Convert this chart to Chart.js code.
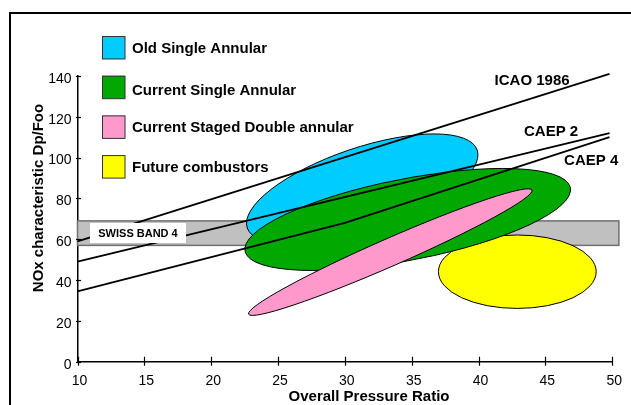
<!DOCTYPE html>
<html>
<head>
<meta charset="utf-8">
<script src="https://cdn.jsdelivr.net/npm/chart.js@4"></script>
<style>
  html, body { margin:0; padding:0; background:#fff; }
  #wrap { width:631px; height:405px; overflow:hidden; }
</style>
</head>
<body>
<div id="wrap"><canvas id="noxChart" width="631" height="405"></canvas></div>
<script>
// --- Dane ---
const xTicks = [10, 15, 20, 25, 30, 35, 40, 45, 50];
const yTicks = [0, 20, 40, 60, 80, 100, 120, 140];

const lineNames = ['ICAO 1986', 'CAEP 2', 'CAEP 4'];
const icaoX = [10, 49.8],      icaoY = [59, 141];
const caep2X = [10, 49.8],     caep2Y = [49, 112];
const caep4X = [10, 30, 49.8], caep4Y = [34.5, 68, 110];

const groupNames = ['Old Single Annular', 'Current Single Annular', 'Current Staged Double annular', 'Future combustors'];
const groupColors = ['#00ccff', '#00a800', '#ff99cc', '#ffff00'];
// ellipse = centre + two conjugate half-diameters (axis units)
const ellCentre = [[31.3, 84.6], [34.7, 69.7], [33.4, 53.7], [42.9, 44.1]];
const ellHalfA  = [[8.6, 19.1],  [7.1, 25.0],  [10.6, 30.4], [5.9, 0]];
const ellHalfB  = [[1.0, -19.1], [9.9, 0],     [0.4, -6.2],  [0, 18.0]];
const drawOrder = [3, 0, 1, 2];

const bandName = 'SWISS BAND 4';
const bandX = [10, 50.5], bandY = [57, 69];

const FONT = '"Liberation Sans", Arial, sans-serif';

// --- Rysowanie tła: pasmo + elipsy ---
const shapesPlugin = {
  id: 'shapes',
  beforeDatasetsDraw(chart){
    const ctx = chart.ctx, xs = chart.scales.x, ys = chart.scales.y;
    ctx.save();
    // band
    const bx0 = xs.getPixelForValue(bandX[0]), bx1 = xs.getPixelForValue(bandX[1]);
    const by0 = ys.getPixelForValue(bandY[1]), by1 = ys.getPixelForValue(bandY[0]);
    ctx.fillStyle = '#c0c0c0';
    ctx.fillRect(bx0, by0, bx1-bx0, by1-by0);
    ctx.strokeStyle = '#707070'; ctx.lineWidth = 1.5;
    ctx.strokeRect(bx0, by0, bx1-bx0, by1-by0);
    // ellipses
    drawOrder.forEach(i => {
      const c = ellCentre[i], a = ellHalfA[i], b = ellHalfB[i];
      const cx = xs.getPixelForValue(c[0]), cy = ys.getPixelForValue(c[1]);
      const ax = xs.getPixelForValue(c[0]+a[0]) - cx, ay = ys.getPixelForValue(c[1]+a[1]) - cy;
      const bxx = xs.getPixelForValue(c[0]+b[0]) - cx, byy = ys.getPixelForValue(c[1]+b[1]) - cy;
      ctx.save();
      ctx.beginPath();
      ctx.transform(ax, ay, bxx, byy, cx, cy);
      ctx.arc(0, 0, 1, 0, 2*Math.PI);
      ctx.restore();
      ctx.fillStyle = groupColors[i]; ctx.fill();
      ctx.strokeStyle = '#000'; ctx.lineWidth = 1; ctx.stroke();
    });
    ctx.restore();
  },
  afterDraw(chart){
    const ctx = chart.ctx, xs = chart.scales.x, ys = chart.scales.y;
    ctx.save();
    // band label
    ctx.fillStyle = '#fff';
    ctx.fillRect(90, 223, 96, 20);
    ctx.fillStyle = '#000';
    ctx.font = 'bold 11px ' + FONT;
    ctx.textAlign = 'center'; ctx.textBaseline = 'middle';
    ctx.fillText(bandName, 138, 233.5);
    // line labels
    ctx.font = 'bold 15px ' + FONT;
    ctx.textAlign = 'left';
    const lx = [41.2, 43.4, 46.4], ly = [137.7, 112.7, 98.3];
    lineNames.forEach((n, i) => ctx.fillText(n, xs.getPixelForValue(lx[i]), ys.getPixelForValue(ly[i])));
    // legend
    groupNames.forEach((n, i) => {
      const top = 36 + i*39.7;
      ctx.fillStyle = groupColors[i];
      ctx.fillRect(102, top, 23, 23);
      ctx.strokeStyle = '#333'; ctx.lineWidth = 1;
      ctx.strokeRect(102.5, top+0.5, 22.5, 22.5);
      ctx.fillStyle = '#000';
      ctx.fillText(n, 132, top + 12.5 + (i === 1 ? 2.5 : 0));
    });
    // axis titles
    ctx.textAlign = 'center';
    ctx.fillText('Overall Pressure Ratio', 369, 397);
    ctx.save();
    ctx.translate(39, 198); ctx.rotate(-Math.PI/2);
    ctx.fillText('NOx characteristic Dp/Foo', 0, 0);
    ctx.restore();
    // tick marks
    ctx.strokeStyle = '#000'; ctx.lineWidth = 1.2;
    const yb = ys.getPixelForValue(0), xl = xs.getPixelForValue(10);
    xTicks.forEach(v => {
      const p = Math.round(xs.getPixelForValue(v)) + 0.5;
      ctx.beginPath(); ctx.moveTo(p, yb-5); ctx.lineTo(p, yb+4); ctx.stroke();
    });
    yTicks.forEach(v => {
      const p = Math.round(ys.getPixelForValue(v)) + 0.5;
      ctx.beginPath(); ctx.moveTo(xl-1.5, p); ctx.lineTo(xl+3.5, p); ctx.stroke();
    });
    // frame
    ctx.lineWidth = 2;
    ctx.strokeRect(10, 13, 700, 500);
    ctx.restore();
  }
};

const zip = (xa, ya) => xa.map((x, i) => ({x, y: ya[i]}));
const lineStyle = { borderColor:'#000', borderWidth:1.8, pointRadius:0, fill:false, tension:0, clip: false };

new Chart(document.getElementById('noxChart'), {
  type: 'line',
  data: {
    datasets: [
      { label: lineNames[0], data: zip(icaoX, icaoY), ...lineStyle },
      { label: lineNames[1], data: zip(caep2X, caep2Y), ...lineStyle },
      { label: lineNames[2], data: zip(caep4X, caep4Y), ...lineStyle }
    ]
  },
  options: {
    responsive: false, animation: false, devicePixelRatio: 1,
    layout: { padding: { left: 10, top: 76, right: 15.5, bottom: 0 } },
    plugins: { legend: { display: false }, tooltip: { enabled: false } },
    scales: {
      x: {
        type: 'linear', min: 10, max: 50,
        afterBuildTicks: s => { s.ticks = xTicks.map(v => ({value: v})); },
        afterFit: s => { s.height = 43.3; },
        ticks: { color:'#000', font:{ family: FONT, size: 14 }, padding: 11, labelOffset: 2, maxRotation: 0 },
        grid: { drawOnChartArea: false, drawTicks: false },
        border: { display: true, color: '#000', width: 1.5 }
      },
      y: {
        type: 'linear', min: 0, max: 140,
        afterBuildTicks: s => { s.ticks = yTicks.map(v => ({value: v})); },
        afterFit: s => { s.width = 67.5; },
        ticks: { color:'#000', font:{ family: FONT, size: 14 }, padding: 6, labelOffset: 3 },
        grid: { drawOnChartArea: false, drawTicks: false },
        border: { display: true, color: '#000', width: 1.5 }
      }
    }
  },
  plugins: [shapesPlugin]
});
</script>
</body>
</html>
